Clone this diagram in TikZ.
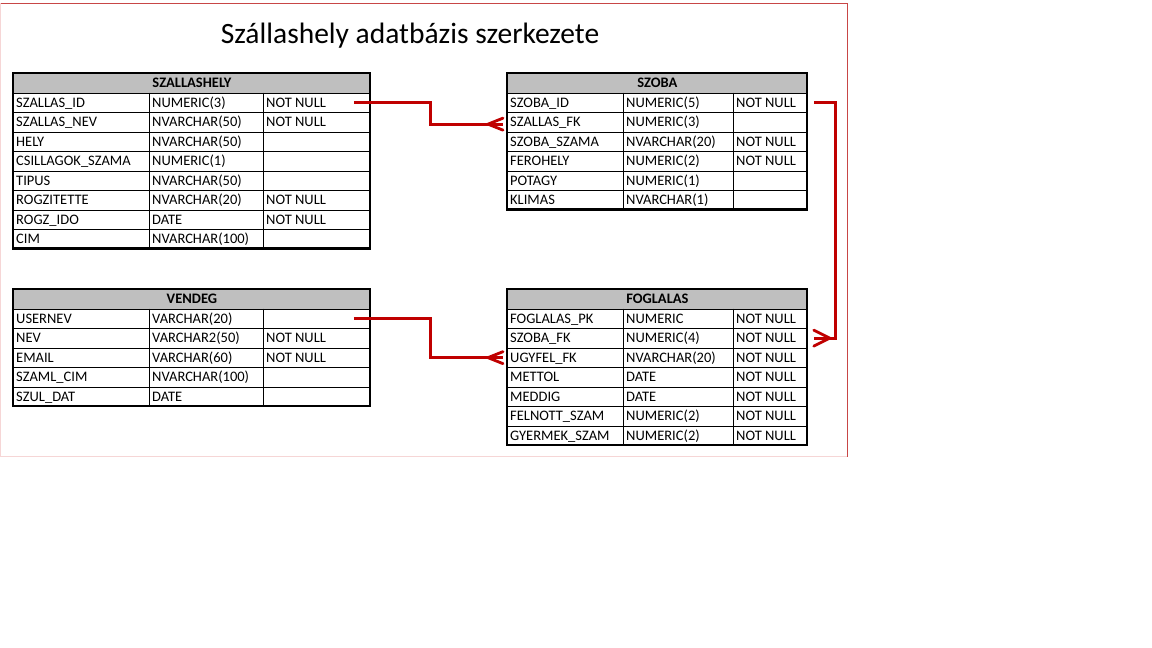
\documentclass[tikz,border=0pt]{standalone}
\usepackage{fontspec}
\setmainfont{Carlito}
\usetikzlibrary{calc}
\definecolor{fkred}{RGB}{192,0,0}
\definecolor{hdrgray}{RGB}{191,191,191}
\definecolor{framedk}{RGB}{200,70,70}
\definecolor{framelt}{RGB}{246,214,214}
\tikzset{
  hdr/.style={draw=black, line width=0.8pt, fill=hdrgray, minimum height=19.5pt, inner sep=0pt,
    font=\fontsize{14.5}{16}\selectfont\bfseries},
  rowbox/.style={draw=black, line width=0.8pt, minimum height=19.5pt, inner sep=0pt},
  gridline/.style={draw=black, line width=0.8pt},
  celltext/.style={anchor=base west, inner sep=0pt, font=\fontsize{14.5}{16}\selectfont},
  outerbox/.style={draw=black, line width=2.6pt},
  fk/.style={draw=fkred, line width=3.2pt},
  foot/.style={draw=fkred, line width=2.8pt, line cap=round}
}
% #1 name, #2 x0, #3 x1, #4 x2, #5 x3, #6 ytop, #7 title, #8 rows, #9 number of rows
\newcommand\dbtable[9]{%
  \pgfmathsetmacro\tw{#5-#2}%
  \node[hdr, minimum width=\tw pt, anchor=north west] (#1-h) at (#2,#6) {#7};
  \foreach \ca/\cb/\cc [count=\i] in {#8} {%
    \pgfmathsetmacro\yt{#6+19.5*\i}%
    \pgfmathsetmacro\yc{\yt+9.75+5}%
    \pgfmathsetmacro\yb{\yt+19.5}%
    \node[rowbox, minimum width=\tw pt, anchor=north west] (#1-r\i) at (#2,\yt) {};
    \draw[gridline] (#3,\yt) -- (#3,\yb) (#4,\yt) -- (#4,\yb);
    \node[celltext] (#1-r\i-a) at ({#2+3},\yc) {\ca};
    \node[celltext] (#1-r\i-b) at ({#3+3},\yc) {\cb};
    \node[celltext] (#1-r\i-c) at ({#4+3},\yc) {\cc};
  }
  \pgfmathsetmacro\ybot{#6+19.5*(#9+1)}%
  \draw[outerbox] (#2,#6) rectangle (#5,\ybot);
}
\begin{document}
\begin{tikzpicture}[x=1pt,y=-1pt]
\useasboundingbox[fill=white] (0,0) rectangle (1152,648);
% outer frame
\draw[framelt, line width=1pt] (0.5,3) -- (0.5,456.5) -- (847.5,456.5);
\draw[framedk, line width=1pt] (0.5,3) -- (847.5,3) -- (847.5,456.5);
% title
\node[font=\fontsize{29.5}{33}\selectfont, inner sep=0pt] (title) at (410,35.5) {Szállashely adatbázis szerkezete};
% tables
\dbtable{szallashely}{13}{149}{263}{370}{73}{SZALLASHELY}{%
  SZALLAS\_ID/NUMERIC(3)/NOT NULL,
  SZALLAS\_NEV/NVARCHAR(50)/NOT NULL,
  HELY/NVARCHAR(50)/{},
  CSILLAGOK\_SZAMA/NUMERIC(1)/{},
  TIPUS/NVARCHAR(50)/{},
  ROGZITETTE/NVARCHAR(20)/NOT NULL,
  ROGZ\_IDO/DATE/NOT NULL,
  CIM/NVARCHAR(100)/{}}{8}
\dbtable{szoba}{507}{623}{733}{807}{73}{SZOBA}{%
  SZOBA\_ID/NUMERIC(5)/NOT NULL,
  SZALLAS\_FK/NUMERIC(3)/{},
  SZOBA\_SZAMA/NVARCHAR(20)/NOT NULL,
  FEROHELY/NUMERIC(2)/NOT NULL,
  POTAGY/NUMERIC(1)/{},
  KLIMAS/NVARCHAR(1)/{}}{6}
\dbtable{vendeg}{13}{149}{263}{370}{289}{VENDEG}{%
  USERNEV/VARCHAR(20)/{},
  NEV/VARCHAR2(50)/NOT NULL,
  EMAIL/VARCHAR(60)/NOT NULL,
  SZAML\_CIM/NVARCHAR(100)/{},
  SZUL\_DAT/DATE/{}}{5}
\dbtable{foglalas}{507}{623}{733}{807}{289}{FOGLALAS}{%
  FOGLALAS\_PK/NUMERIC/NOT NULL,
  SZOBA\_FK/NUMERIC(4)/NOT NULL,
  UGYFEL\_FK/NVARCHAR(20)/NOT NULL,
  METTOL/DATE/NOT NULL,
  MEDDIG/DATE/NOT NULL,
  FELNOTT\_SZAM/NUMERIC(2)/NOT NULL,
  GYERMEK\_SZAM/NUMERIC(2)/NOT NULL}{7}
% connectors
\coordinate (c1s) at ($(szallashely-r1.east)+(-17,0)$);
\coordinate (c1e) at ($(szoba-r2.west)+(-4,2)$);
\coordinate (c2s) at ($(szoba-r1.east)+(6,0)$);
\coordinate (c2e) at ($(foglalas-r2.east)+(6,0)$);
\coordinate (c3s) at ($(vendeg-r1.east)+(-17,0)$);
\coordinate (c3e) at ($(foglalas-r3.west)+(-4,0)$);
\draw[fk] (c1s) -- ++(77,0) |- (c1e);
\draw[fk] (c2s) -- ++(22,0) |- (c2e);
\draw[fk] (c3s) -- ++(77,0) |- (c3e);
% crow's feet
\draw[foot] ($(c1e)+(-15,0)$) -- ($(c1e)+(0,-6)$) ($(c1e)+(-15,0)$) -- ($(c1e)+(0,6)$);
\draw[foot] ($(c3e)+(-15,0)$) -- ($(c3e)+(0,-6)$) ($(c3e)+(-15,0)$) -- ($(c3e)+(0,6)$);
\draw[foot] ($(c2e)+(16,0)$) -- ($(c2e)+(0,-8)$) ($(c2e)+(16,0)$) -- ($(c2e)+(0,8)$);
\end{tikzpicture}
\end{document}
